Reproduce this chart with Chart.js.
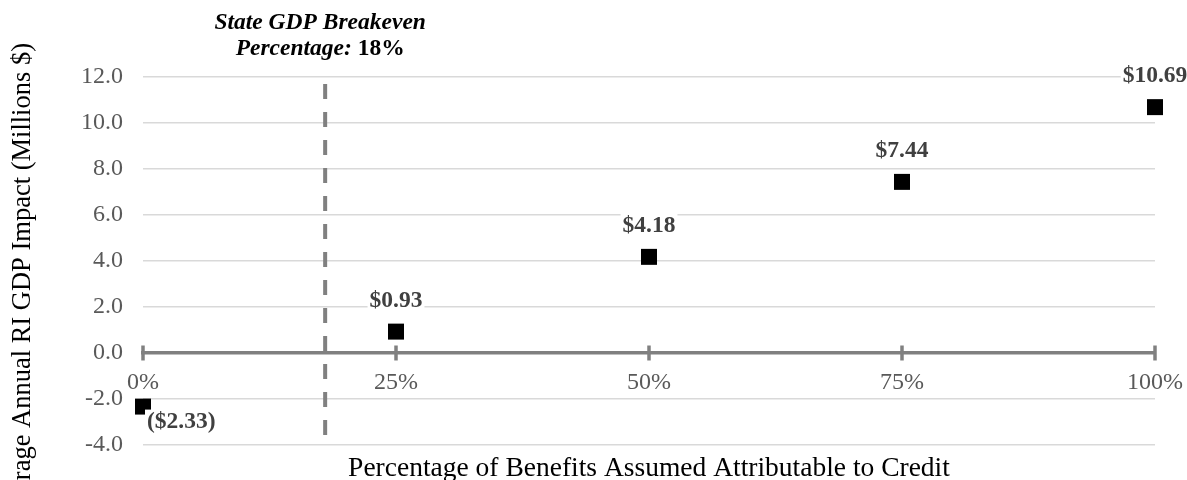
<!DOCTYPE html>
<html>
<head>
<meta charset="utf-8">
<script src="https://cdn.jsdelivr.net/npm/chart.js@4/dist/chart.umd.min.js"></script>
<style>
  html, body { margin: 0; padding: 0; background: #ffffff; }
  #wrap { width: 1187px; height: 480px; position: relative; }
</style>
</head>
<body>
<div id="wrap"><canvas id="chart"></canvas></div>
<script>
// Share of benefits attributed to the credit (%), and resulting average annual RI GDP impact ($M)
const creditShares = [0, 25, 50, 75, 100];
const gdpImpact = [-2.33, 0.93, 4.18, 7.44, 10.69];

// Breakeven share and the vertical extent of its marker line (y values)
const breakevenShare = 18;
const breakevenSpan = [11.7, -4];

// Axis ranges and steps
const yRange = [-4, 12];
const yStep = 2;
const xRange = [0, 100];
const xStep = 25;

const serif = "'Liberation Serif', 'Times New Roman', Times, serif";
const FS = 23.5;      // value labels and annotation
const TICK_FS = 24;   // tick labels
const XTITLE_FS = 27.5;
const YTITLE_FS = 26.5;

function money(v) {
  const s = '$' + Math.abs(v).toFixed(2);
  return v < 0 ? '(' + s + ')' : s;
}

const decor = {
  id: 'decor',
  beforeDatasetsDraw(chart) {
    // tick marks crossing the zero axis line
    const { ctx, scales: { x, y } } = chart;
    const y0 = y.getPixelForValue(0);
    ctx.save();
    ctx.strokeStyle = '#808080';
    ctx.lineWidth = 3.5;
    x.ticks.forEach(t => {
      const px = x.getPixelForValue(t.value);
      ctx.beginPath();
      ctx.moveTo(px, y0 - 7.5);
      ctx.lineTo(px, y0 + 7.5);
      ctx.stroke();
    });
    ctx.restore();
  },
  afterDatasetsDraw(chart) {
    const { ctx, scales: { x, y }, chartArea } = chart;
    ctx.save();

    // value labels over each point
    const meta = chart.getDatasetMeta(1);
    ctx.font = 'bold ' + FS + 'px ' + serif;
    ctx.textBaseline = 'alphabetic';
    meta.data.forEach((pt, i) => {
      const v = gdpImpact[i];
      const txt = money(v);
      const w = ctx.measureText(txt).width;
      let tx, ty;
      if (v < 0) {
        ctx.textAlign = 'left';
        tx = pt.x + 4; ty = pt.y + 21;
        ctx.fillStyle = '#ffffff';
        ctx.fillRect(tx - 2, ty - 18, w + 4, 22);
      } else {
        ctx.textAlign = 'center';
        tx = pt.x; ty = pt.y - 25;
        ctx.fillStyle = '#ffffff';
        ctx.fillRect(tx - w / 2 - 2, ty - 18, w + 4, 22);
      }
      ctx.fillStyle = '#404040';
      ctx.fillText(txt, tx, ty);
    });

    // breakeven annotation
    const cx = x.getPixelForValue(breakevenShare) - 5;
    ctx.fillStyle = '#000000';
    ctx.textAlign = 'center';
    ctx.font = 'italic bold ' + FS + 'px ' + serif;
    ctx.fillText('State GDP Breakeven', cx, 29);
    const p1 = 'Percentage:';
    const p2 = ' ' + breakevenShare + '%';
    const w1 = ctx.measureText(p1).width;
    ctx.font = 'bold ' + FS + 'px ' + serif;
    const w2 = ctx.measureText(p2).width;
    const left = cx - (w1 + w2) / 2;
    ctx.textAlign = 'left';
    ctx.font = 'italic bold ' + FS + 'px ' + serif;
    ctx.fillText(p1, left, 55);
    ctx.font = 'bold ' + FS + 'px ' + serif;
    ctx.fillText(p2, left + w1, 55);

    // axis titles
    ctx.fillStyle = '#000000';
    ctx.textAlign = 'center';
    ctx.font = XTITLE_FS + 'px ' + serif;
    ctx.fillText('Percentage of Benefits Assumed Attributable to Credit',
      (chartArea.left + chartArea.right) / 2, 476);
    ctx.font = YTITLE_FS + 'px ' + serif;
    ctx.translate(30, 43);
    ctx.rotate(-Math.PI / 2);
    ctx.textAlign = 'right';
    ctx.fillText('Average Annual RI GDP Impact (Millions $)', 0, 0);
    ctx.restore();
  }
};

new Chart(document.getElementById('chart'), {
  type: 'scatter',
  data: {
    datasets: [
      {
        label: 'Breakeven',
        type: 'line',
        data: breakevenSpan.map(v => ({ x: breakevenShare, y: v })),
        borderColor: '#808080',
        borderWidth: 4,
        borderDash: [15, 13],
        pointRadius: 0,
        fill: false,
        showLine: true,
        order: 2
      },
      {
        label: 'GDP impact',
        data: creditShares.map((s, i) => ({ x: s, y: gdpImpact[i] })),
        pointStyle: 'rect',
        pointRadius: 11.3,
        pointHoverRadius: 11.3,
        backgroundColor: '#000000',
        borderColor: '#000000',
        borderWidth: 0,
        clip: false,
        order: 1
      }
    ]
  },
  options: {
    responsive: true,
    maintainAspectRatio: false,
    animation: false,
    events: [],
    layout: { padding: { top: 77, bottom: 35, left: 0, right: 32 } },
    plugins: { legend: { display: false }, tooltip: { enabled: false } },
    scales: {
      x: {
        type: 'linear',
        position: { y: 0 },
        min: xRange[0],
        max: xRange[1],
        afterFit: s => { s.paddingLeft = 0; s.paddingRight = 0; },
        grid: { display: false, drawTicks: false },
        border: { display: true, color: '#808080', width: 3.5 },
        ticks: {
          stepSize: xStep,
          padding: 15,
          color: '#595959',
          font: { family: serif, size: TICK_FS },
          maxRotation: 0,
          callback: v => v + '%'
        }
      },
      y: {
        type: 'linear',
        position: 'left',
        min: yRange[0],
        max: yRange[1],
        afterFit: s => { s.width = 143; },
        grid: { color: '#d9d9d9', lineWidth: 1.5, drawTicks: false },
        border: { display: false },
        ticks: {
          stepSize: yStep,
          padding: 20,
          color: '#595959',
          font: { family: serif, size: TICK_FS },
          callback: v => v.toFixed(1)
        }
      }
    }
  },
  plugins: [decor]
});
</script>
</body>
</html>
